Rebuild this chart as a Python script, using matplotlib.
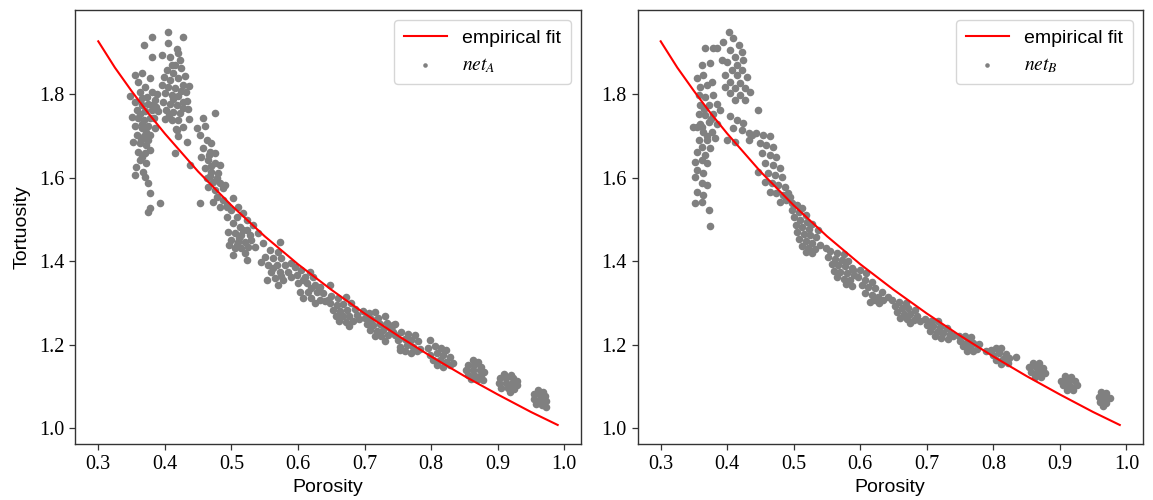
import numpy as np
import matplotlib
matplotlib.use("Agg")
import matplotlib.pyplot as plt

# ---------------- data ----------------
fit_porosity = [0.30, 0.325, 0.35, 0.375, 0.40, 0.45, 0.50, 0.55, 0.60, 0.65,
                0.70, 0.75, 0.80, 0.85, 0.90, 0.95, 0.99]
fit_tortuosity = [1.927, 1.864, 1.808, 1.755, 1.706, 1.615, 1.534, 1.460, 1.393,
                  1.332, 1.275, 1.222, 1.172, 1.125, 1.081, 1.039, 1.008]

netA_points = [
    # cluster ~0.37
    (0.348,1.795),(0.355,1.846),(0.365,1.850),(0.360,1.830),(0.370,1.818),(0.378,1.838),
    (0.363,1.806),(0.373,1.794),(0.380,1.806),(0.355,1.782),(0.365,1.775),(0.375,1.778),
    (0.385,1.786),(0.358,1.763),(0.370,1.759),(0.380,1.763),(0.360,1.743),(0.368,1.739),
    (0.378,1.743),(0.355,1.723),(0.365,1.719),(0.375,1.723),(0.358,1.703),(0.368,1.699),
    (0.378,1.703),(0.352,1.687),(0.362,1.683),(0.372,1.679),(0.360,1.663),(0.370,1.659),
    (0.378,1.667),(0.362,1.643),(0.372,1.635),(0.357,1.627),(0.367,1.615),(0.355,1.607),
    (0.370,1.603),(0.375,1.587),(0.378,1.563),(0.375,1.519),(0.392,1.539),(0.378,1.527),
    (0.380,1.775),(0.387,1.770),(0.366,1.792),(0.383,1.744),(0.385,1.720),(0.350,1.745),
    (0.362,1.752),(0.366,1.730),(0.371,1.709),(0.364,1.690),(0.375,1.690),(0.366,1.650),
    # cluster ~0.41
    (0.404,1.950),(0.428,1.938),(0.380,1.938),(0.368,1.918),(0.405,1.922),(0.395,1.894),
    (0.380,1.890),(0.408,1.890),(0.420,1.898),(0.423,1.882),(0.415,1.870),(0.403,1.858),
    (0.413,1.850),(0.425,1.862),(0.398,1.842),(0.408,1.835),(0.420,1.838),(0.430,1.845),
    (0.395,1.822),(0.405,1.818),(0.415,1.815),(0.427,1.822),(0.400,1.802),(0.410,1.798),
    (0.420,1.796),(0.432,1.805),(0.397,1.782),(0.408,1.778),(0.418,1.775),(0.428,1.782),
    (0.402,1.762),(0.413,1.758),(0.423,1.755),(0.435,1.765),(0.400,1.742),(0.410,1.738),
    (0.420,1.738),(0.417,1.718),(0.427,1.722),(0.420,1.700),(0.437,1.742),(0.390,1.760),
    (0.388,1.800),(0.433,1.785),(0.418,1.908),(0.410,1.870),(0.436,1.820),(0.418,1.715),
    (0.433,1.687),(0.415,1.659),(0.425,1.808),(0.412,1.788),(0.428,1.768),(0.406,1.750),
    # cluster ~0.46
    (0.458,1.743),(0.475,1.756),(0.448,1.719),(0.460,1.723),(0.453,1.703),(0.463,1.691),
    (0.470,1.683),(0.458,1.671),(0.468,1.663),(0.475,1.659),(0.455,1.651),(0.465,1.643),
    (0.475,1.635),(0.483,1.631),(0.438,1.631),(0.460,1.623),(0.470,1.615),(0.480,1.611),
    (0.463,1.599),(0.473,1.591),(0.483,1.587),(0.465,1.579),(0.475,1.571),(0.488,1.575),
    (0.478,1.555),(0.488,1.547),(0.473,1.543),(0.493,1.531),(0.453,1.539),(0.483,1.531),
    (0.490,1.583),(0.466,1.655),(0.470,1.628),(0.478,1.600),(0.468,1.605),
    # cluster ~0.51
    (0.503,1.551),(0.510,1.531),(0.500,1.523),(0.518,1.515),(0.508,1.507),(0.523,1.499),
    (0.533,1.487),(0.503,1.491),(0.513,1.483),(0.523,1.475),(0.505,1.467),(0.515,1.463),
    (0.528,1.463),(0.500,1.451),(0.510,1.447),(0.520,1.447),(0.530,1.451),(0.505,1.431),
    (0.515,1.431),(0.525,1.435),(0.535,1.435),(0.503,1.415),(0.520,1.419),(0.523,1.403),
    (0.540,1.467),(0.548,1.443),(0.494,1.505),(0.495,1.470),(0.496,1.440),(0.493,1.535),
    (0.512,1.455),(0.517,1.475),(0.508,1.440),
    # cluster ~0.56
    (0.573,1.447),(0.558,1.427),(0.570,1.423),(0.550,1.411),(0.563,1.407),(0.575,1.407),
    (0.555,1.391),(0.568,1.391),(0.580,1.391),(0.545,1.399),(0.560,1.375),(0.573,1.375),
    (0.585,1.375),(0.553,1.355),(0.565,1.359),(0.578,1.355),(0.570,1.343),(0.590,1.363),
    (0.562,1.385),(0.574,1.365),
    # cluster ~0.61
    (0.595,1.387),(0.605,1.379),(0.618,1.375),(0.598,1.367),(0.610,1.363),(0.623,1.363),
    (0.600,1.347),(0.613,1.347),(0.625,1.343),(0.633,1.339),(0.603,1.327),(0.615,1.327),
    (0.628,1.327),(0.638,1.323),(0.608,1.311),(0.620,1.311),(0.648,1.343),(0.633,1.307),
    (0.590,1.395),(0.625,1.300),(0.640,1.305),(0.607,1.355),(0.620,1.335),
    # cluster ~0.66
    (0.650,1.318),(0.660,1.312),(0.672,1.315),(0.648,1.300),(0.658,1.296),(0.668,1.298),
    (0.680,1.300),(0.653,1.284),(0.663,1.282),(0.673,1.284),(0.685,1.286),(0.657,1.270),
    (0.667,1.268),(0.677,1.270),(0.688,1.272),(0.662,1.257),(0.672,1.255),(0.682,1.258),
    (0.676,1.244),(0.692,1.262),(0.645,1.308),
    # cluster ~0.71
    (0.697,1.282),(0.706,1.276),(0.716,1.279),(0.700,1.265),(0.710,1.262),(0.720,1.265),
    (0.730,1.268),(0.703,1.250),(0.713,1.248),(0.723,1.250),(0.733,1.252),(0.708,1.236),
    (0.718,1.234),(0.728,1.236),(0.738,1.240),(0.715,1.222),(0.725,1.220),(0.735,1.224),
    (0.730,1.208),(0.742,1.230),(0.745,1.250),
    # cluster ~0.76
    (0.740,1.239),(0.745,1.223),(0.755,1.231),(0.765,1.227),(0.775,1.223),(0.750,1.211),
    (0.760,1.215),(0.770,1.211),(0.780,1.208),(0.753,1.195),(0.763,1.199),(0.773,1.195),
    (0.783,1.191),(0.760,1.184),(0.770,1.180),(0.778,1.184),(0.753,1.188),(0.798,1.212),
    (0.743,1.247),
    # cluster ~0.81
    (0.795,1.192),(0.805,1.196),(0.815,1.192),(0.823,1.188),(0.798,1.176),(0.808,1.180),
    (0.818,1.176),(0.828,1.172),(0.803,1.164),(0.813,1.164),(0.823,1.160),(0.833,1.156),
    (0.808,1.152),(0.818,1.148),(0.828,1.152),
    # cluster ~0.87
    (0.863,1.164),(0.870,1.160),(0.855,1.152),(0.865,1.152),(0.875,1.148),(0.853,1.140),
    (0.863,1.140),(0.873,1.140),(0.880,1.136),(0.855,1.128),(0.865,1.128),(0.875,1.128),
    (0.860,1.117),(0.870,1.117),(0.878,1.116),
    # cluster ~0.915
    (0.910,1.130),(0.920,1.128),(0.903,1.120),(0.913,1.120),(0.923,1.120),(0.929,1.114),
    (0.902,1.108),(0.912,1.108),(0.922,1.108),(0.929,1.104),(0.905,1.096),(0.915,1.096),
    (0.925,1.093),(0.918,1.088),
    # cluster ~0.965
    (0.960,1.092),(0.968,1.088),(0.954,1.082),(0.963,1.080),(0.971,1.077),(0.955,1.070),
    (0.964,1.068),(0.973,1.066),(0.958,1.058),(0.967,1.056),(0.973,1.052),
]

netB_points = [
    # cluster ~0.37
    (0.354,1.838),(0.364,1.846),(0.359,1.818),(0.369,1.822),(0.377,1.830),(0.357,1.798),
    (0.367,1.794),(0.379,1.798),(0.359,1.774),(0.372,1.774),(0.384,1.778),(0.357,1.754),
    (0.367,1.750),(0.379,1.754),(0.359,1.730),(0.372,1.734),(0.384,1.730),(0.354,1.722),
    (0.364,1.710),(0.377,1.710),(0.357,1.691),(0.369,1.691),(0.382,1.695),(0.362,1.675),
    (0.374,1.671),(0.354,1.663),(0.367,1.655),(0.352,1.639),(0.362,1.643),(0.369,1.635),
    (0.354,1.619),(0.364,1.611),(0.352,1.603),(0.362,1.587),(0.369,1.583),(0.354,1.567),
    (0.364,1.559),(0.352,1.539),(0.362,1.543),(0.372,1.523),(0.374,1.485),(0.349,1.722),
    (0.389,1.762),(0.365,1.765),(0.375,1.742),(0.362,1.722),(0.370,1.700),
    # cluster ~0.41
    (0.402,1.950),(0.394,1.926),(0.409,1.934),(0.417,1.918),(0.404,1.906),(0.422,1.902),
    (0.412,1.890),(0.424,1.882),(0.399,1.878),(0.414,1.870),(0.407,1.858),(0.422,1.858),
    (0.397,1.846),(0.414,1.846),(0.429,1.842),(0.404,1.830),(0.419,1.826),(0.397,1.818),
    (0.412,1.814),(0.427,1.814),(0.404,1.802),(0.419,1.798),(0.434,1.806),(0.412,1.786),
    (0.427,1.786),(0.447,1.762),(0.404,1.747),(0.414,1.739),(0.424,1.731),(0.409,1.719),
    (0.422,1.715),(0.432,1.707),(0.399,1.691),(0.412,1.687),(0.437,1.703),(0.384,1.910),
    (0.392,1.882),(0.367,1.910),(0.379,1.910),(0.374,1.874),(0.362,1.870),
    # cluster ~0.46
    (0.444,1.707),(0.454,1.703),(0.464,1.699),(0.449,1.683),(0.459,1.679),(0.469,1.675),
    (0.452,1.659),(0.464,1.655),(0.474,1.651),(0.457,1.635),(0.469,1.631),(0.479,1.623),
    (0.447,1.615),(0.462,1.611),(0.472,1.607),(0.482,1.603),(0.457,1.591),(0.467,1.587),
    (0.477,1.583),(0.487,1.579),(0.464,1.567),(0.474,1.563),(0.484,1.559),(0.492,1.563),
    (0.479,1.543),(0.489,1.547),(0.432,1.691),
    # cluster ~0.52
    (0.497,1.540),(0.505,1.535),(0.512,1.528),(0.498,1.522),(0.508,1.518),(0.518,1.512),
    (0.500,1.505),(0.510,1.500),(0.520,1.495),(0.528,1.490),(0.503,1.488),(0.513,1.483),
    (0.523,1.478),(0.505,1.470),(0.515,1.466),(0.525,1.462),(0.533,1.458),(0.508,1.453),
    (0.518,1.449),(0.528,1.445),(0.512,1.437),(0.522,1.433),(0.532,1.430),(0.518,1.422),
    (0.528,1.420),(0.540,1.440),(0.536,1.475),(0.495,1.555),
    # cluster ~0.57
    (0.555,1.425),(0.565,1.420),(0.575,1.418),(0.552,1.410),(0.562,1.406),(0.572,1.404),
    (0.582,1.400),(0.557,1.394),(0.567,1.390),(0.577,1.388),(0.587,1.384),(0.560,1.378),
    (0.570,1.374),(0.580,1.372),(0.590,1.368),(0.565,1.362),(0.575,1.358),(0.585,1.355),
    (0.578,1.345),(0.588,1.342),(0.549,1.433),
    # cluster ~0.61
    (0.599,1.379),(0.609,1.371),(0.597,1.363),(0.607,1.355),(0.617,1.351),(0.602,1.343),
    (0.612,1.339),(0.622,1.335),(0.632,1.327),(0.607,1.323),(0.617,1.319),(0.627,1.315),
    (0.634,1.307),(0.622,1.307),(0.589,1.379),(0.615,1.303),(0.628,1.300),
    # cluster ~0.66
    (0.648,1.308),(0.658,1.303),(0.668,1.300),(0.652,1.292),(0.662,1.289),(0.672,1.287),
    (0.682,1.284),(0.655,1.278),(0.665,1.275),(0.675,1.273),(0.685,1.270),(0.660,1.265),
    (0.670,1.262),(0.680,1.260),(0.690,1.258),(0.675,1.252),(0.642,1.315),
    # cluster ~0.71
    (0.697,1.262),(0.707,1.258),(0.717,1.256),(0.700,1.248),(0.710,1.245),(0.720,1.242),
    (0.730,1.240),(0.705,1.234),(0.715,1.231),(0.725,1.228),(0.735,1.226),(0.712,1.220),
    (0.722,1.217),(0.732,1.215),(0.740,1.220),
    # cluster ~0.76
    (0.748,1.222),(0.757,1.220),(0.766,1.218),(0.750,1.210),(0.760,1.207),(0.770,1.205),
    (0.778,1.202),(0.755,1.197),(0.765,1.194),(0.775,1.191),(0.760,1.186),(0.770,1.184),
    # cluster ~0.81
    (0.797,1.188),(0.804,1.192),(0.812,1.193),(0.799,1.176),(0.809,1.180),(0.819,1.178),
    (0.804,1.164),(0.814,1.165),(0.824,1.168),(0.834,1.170),(0.812,1.154),(0.822,1.157),
    (0.789,1.184),
    # cluster ~0.865
    (0.859,1.157),(0.869,1.156),(0.854,1.148),(0.864,1.146),(0.874,1.144),(0.857,1.136),
    (0.867,1.134),(0.877,1.133),(0.862,1.124),(0.872,1.122),
    # cluster ~0.915
    (0.907,1.125),(0.917,1.124),(0.902,1.114),(0.912,1.113),(0.922,1.114),(0.925,1.104),
    (0.905,1.104),(0.915,1.102),(0.910,1.092),(0.920,1.092),
    # cluster ~0.965
    (0.962,1.088),(0.970,1.084),(0.959,1.076),(0.967,1.074),(0.975,1.072),(0.961,1.064),
    (0.969,1.061),(0.965,1.053),
]

x_ticks = [0.3, 0.4, 0.5, 0.6, 0.7, 0.8, 0.9, 1.0]
y_ticks = [1.0, 1.2, 1.4, 1.6, 1.8]
series_labels = [r"$net_A$", r"$net_B$"]

# ---------------- styling ----------------
plt.rcParams["mathtext.fontset"] = "stix"
SERIF = "Liberation Serif"
SANS = "Liberation Sans"

fig = plt.figure(figsize=(11.53, 5.0), dpi=100)
axes = [fig.add_axes([0.0653, 0.1114, 0.4383, 0.8686]),
        fig.add_axes([0.5531, 0.1114, 0.4380, 0.8686])]

for ax, pts, lab in zip(axes, [netA_points, netB_points], series_labels):
    arr = np.array(pts)
    ax.plot(fit_porosity, fit_tortuosity, color="red", lw=1.5, label="empirical fit", zorder=3)
    ax.scatter(arr[:, 0], arr[:, 1], s=30, color="#808080", linewidths=0, label=lab, zorder=2)
    ax.set_xlim(0.2655, 1.0245)
    ax.set_ylim(0.9617, 2.002)
    ax.set_xticks(x_ticks)
    ax.set_yticks(y_ticks)
    ax.set_xticklabels([f"{v:.1f}" for v in x_ticks], fontfamily=SERIF, fontsize=14.5)
    ax.set_yticklabels([f"{v:.1f}" for v in y_ticks], fontfamily=SERIF, fontsize=14.5)
    ax.tick_params(length=4.5, width=0.9, color="#333333")
    for sp in ax.spines.values():
        sp.set_color("#333333")
        sp.set_linewidth(1.0)
    ax.set_xlabel("Porosity", fontfamily=SANS, fontsize=14, labelpad=3)
    leg = ax.legend(loc="upper right", prop={"family": SANS, "size": 14},
                    handlelength=2.2, borderpad=0.5, labelspacing=0.45,
                    markerscale=0.6, framealpha=0.8, edgecolor="#cccccc")

axes[0].set_ylabel("Tortuosity", fontfamily=SANS, fontsize=14, labelpad=6)

fig.savefig("out.png", dpi=100)
